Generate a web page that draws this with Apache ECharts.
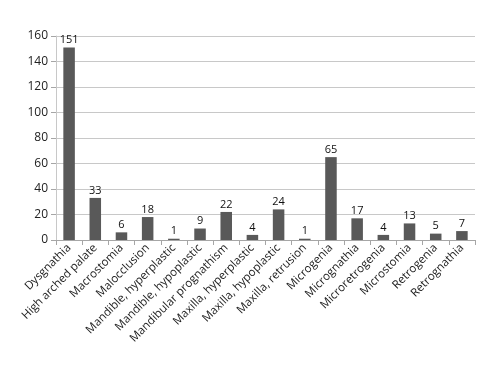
<!DOCTYPE html>
<html>
<head>
<meta charset="utf-8">
<script src="https://cdn.jsdelivr.net/npm/echarts@6/dist/echarts.min.js"></script>
<style>
  html, body { margin: 0; padding: 0; background: #fff; }
  #chart { width: 499px; height: 373px; }
</style>
</head>
<body>
<div id="chart"></div>
<script>
// categories and counts
const categories = [
  'Dysgnathia', 'High arched palate', 'Macrostomia', 'Malocclusion',
  'Mandible, hyperplastic', 'Mandible, hypoplastic', 'Mandibular prognathism',
  'Maxilla, hyperplastic', 'Maxilla, hypoplastic', 'Maxilla, retrusion',
  'Microgenia', 'Micrognathia', 'Microretrogenia', 'Microstomia',
  'Retrogenia', 'Retrognathia'
];
const counts = [151, 33, 6, 18, 1, 9, 22, 4, 24, 1, 65, 17, 4, 13, 5, 7];

const yMin = 0;
const yMax = 160;
const yStep = 20;

const chart = echarts.init(document.getElementById('chart'));

const option = {
  animation: false,
  backgroundColor: '#fff',
  textStyle: { fontFamily: '"Open Sans", "Noto Sans", sans-serif' },
  grid: {
    top: 36,
    left: 56,
    right: 24,
    bottom: 133,
    containLabel: false
  },
  xAxis: {
    type: 'category',
    data: categories,
    axisLine: { lineStyle: { color: '#a6a6a6' } },
    axisTick: { show: true, length: 5, lineStyle: { color: '#a6a6a6' } },
    axisLabel: {
      interval: 0,
      rotate: 45,
      color: '#222',
      fontSize: 11.5,
      margin: 6
    }
  },
  yAxis: {
    type: 'value',
    min: yMin,
    max: yMax,
    interval: yStep,
    axisLine: { show: true, lineStyle: { color: '#c8c8c8' } },
    axisTick: { show: true, length: 5, lineStyle: { color: '#a6a6a6' } },
    axisLabel: { color: '#222', fontSize: 12, margin: 8 },
    splitLine: { show: true, lineStyle: { color: '#c8c8c8' } }
  },
  series: [{
    type: 'bar',
    data: counts,
    barWidth: '44%',
    itemStyle: { color: '#595959' },
    label: {
      show: true,
      position: 'top',
      distance: 2,
      color: '#111',
      fontSize: 11
    }
  }]
};

chart.setOption(option);
</script>
</body>
</html>
